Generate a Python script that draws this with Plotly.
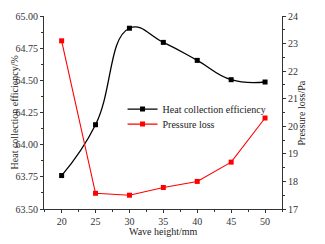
import plotly.graph_objects as go

wave_height = [20, 25, 30, 35, 40, 45, 50]
heat_eff = [63.76, 64.155, 64.905, 64.795, 64.655, 64.505, 64.487]
pressure_loss = [23.1, 17.57, 17.5, 17.78, 18.0, 18.7, 20.3]

FONT = "Liberation Serif"
FS = 10

fig = go.Figure()
fig.add_trace(go.Scatter(
    x=wave_height, y=heat_eff, name="Heat collection efficiency",
    mode="lines+markers", legend="legend",
    line=dict(color="black", width=1.3, shape="spline", smoothing=1.3),
    marker=dict(symbol="square", size=5, color="black"),
))
fig.add_trace(go.Scatter(
    x=wave_height, y=pressure_loss, name="Pressure loss",
    mode="lines+markers", yaxis="y2", legend="legend2",
    line=dict(color="#ff0000", width=1.1),
    marker=dict(symbol="square", size=5, color="#ff0000"),
))

axis_common = dict(
    showgrid=False, zeroline=False, showline=True, linecolor="#333", linewidth=1,
    ticks="outside", ticklen=3, tickcolor="#333", automargin=False,
    tickfont=dict(family=FONT, size=FS, color="#333"),
)

leg_common = dict(xanchor="left", yanchor="middle", bgcolor="rgba(0,0,0,0)",
                  font=dict(family=FONT, size=FS, color="#222"), itemwidth=30)

fig.update_layout(
    width=325, height=244,
    margin=dict(l=44, r=43, t=16, b=35),
    paper_bgcolor="white", plot_bgcolor="white",
    font=dict(family=FONT, size=FS, color="#222"),
    showlegend=True,
    legend=dict(x=0.33, y=0.518, **leg_common),
    legend2=dict(x=0.33, y=0.44, **leg_common),
    xaxis=dict(**axis_common, range=[17.4, 52.5], tickmode="linear", tick0=20, dtick=5,
               minor=dict(ticks="outside", ticklen=2, dtick=2.5, tick0=20, tickcolor="#333")),
    yaxis=dict(**axis_common, range=[63.5, 65.0], tickmode="linear", tick0=63.5, dtick=0.25,
               tickformat=".2f",
               minor=dict(ticks="outside", ticklen=2, dtick=0.125, tick0=63.5, tickcolor="#333")),
    yaxis2=dict(**axis_common, range=[17, 24], overlaying="y", side="right",
                tickmode="linear", tick0=17, dtick=1,
                minor=dict(ticks="outside", ticklen=2, dtick=0.5, tick0=17, tickcolor="#333")),
    annotations=[
        dict(text="Wave height/mm", xref="paper", yref="paper", x=0.5, y=-0.118,
             xanchor="center", yanchor="middle", showarrow=False,
             font=dict(family=FONT, size=FS, color="#222")),
        dict(text="Heat collection efficiency/%", xref="paper", yref="paper", x=-0.122, y=0.5,
             xanchor="center", yanchor="middle", showarrow=False, textangle=-90,
             font=dict(family=FONT, size=FS, color="#222")),
        dict(text="Pressure loss/Pa", xref="paper", yref="paper", x=1.084, y=0.5,
             xanchor="center", yanchor="middle", showarrow=False, textangle=-90,
             font=dict(family=FONT, size=FS, color="#222")),
    ],
)

fig.write_html("out.html", config={"displayModeBar": False},
               post_script="document.body.style.margin='0';document.body.style.overflow='hidden';")
